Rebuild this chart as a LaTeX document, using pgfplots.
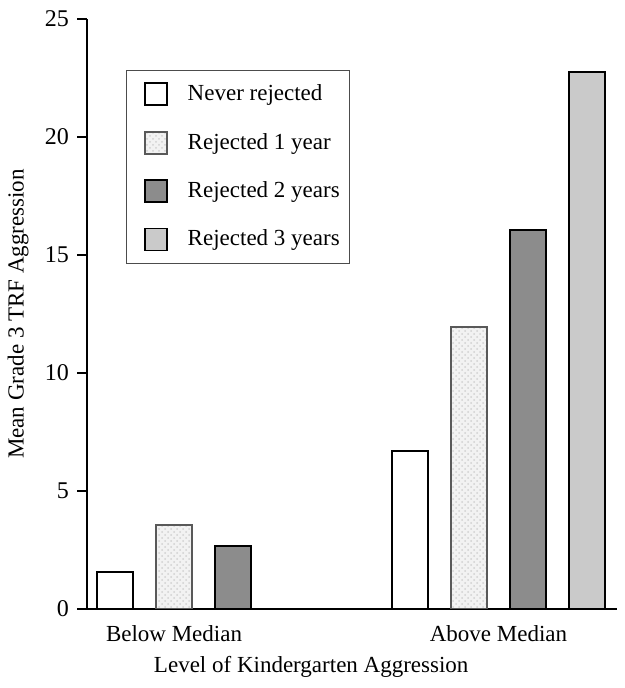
\documentclass[border=0pt]{standalone}
\usepackage{fontspec}
\setmainfont{Liberation Serif}
\usepackage{pgfplots}
\usetikzlibrary{patterns}
\pgfplotsset{compat=1.18}
\definecolor{dk}{HTML}{8C8C8C}
\definecolor{lt}{HTML}{F2F2F2}
\definecolor{md}{HTML}{CACACA}
\begin{document}
\fontsize{11.5}{13}\selectfont
\begin{tikzpicture}
\begin{axis}[
  scale only axis,
  width=265pt, height=295pt,
  xmin=-0.475, xmax=8.51,
  ymin=0, ymax=25,
  axis x line=bottom, axis y line=left,
  axis line style={-, line width=0.8pt},
  ytick={0,5,10,15,20,25},
  xtick={1,6.5},
  xticklabels={Below Median, Above Median},
  x tick style={draw=none},
  y tick style={line width=0.8pt, black},
  tick align=outside,
  major tick length=5pt,
  tick label style={font=\fontsize{12}{14}\selectfont},
  x tick label style={yshift=1pt, font=\fontsize{11.5}{13}\selectfont},
  /pgf/number format/assume math mode=true,
  ylabel={Mean Grade 3 TRF Aggression},
  ylabel style={at={(axis description cs:-0.13,0.5)}, anchor=center},
  xlabel={Level of Kindergarten Aggression},
  xlabel style={at={(axis description cs:0.423,-0.098)}, anchor=center},
  ybar, bar width=18pt, bar shift=0pt,
  legend style={at={(rel axis cs:0.0736,0.9136)}, anchor=north west,
    draw=black!70, line width=0.7pt, inner xsep=3pt, inner ysep=5pt,
    row sep=10.5pt, font=\fontsize{11.5}{13}\selectfont},
  legend cell align=left,
  legend image code/.code={\path (0pt,0pt); \draw[#1, line width=0.9pt] (5.5pt,-5.5pt) rectangle (16.5pt,5.5pt); \path (24.5pt,0pt);},
]
\addplot[draw=black, line width=1pt, fill=white] coordinates {(0,1.55) (5,6.68)};
\addplot[draw=black!65, line width=1pt, fill=lt, postaction={pattern=crosshatch dots, pattern color=black!18}] coordinates {(1,3.55) (6,11.93)};
\addplot[draw=black, line width=1pt, fill=dk] coordinates {(2,2.65) (7,16.05)};
\addplot[draw=black, line width=1pt, fill=md] coordinates {(8,22.75)};
\legend{Never rejected, Rejected 1 year, Rejected 2 years, Rejected 3 years}
\end{axis}
\path[use as bounding box] (-43.5pt,-39.5pt) rectangle (268.5pt,304.5pt);
\end{tikzpicture}
\end{document}
